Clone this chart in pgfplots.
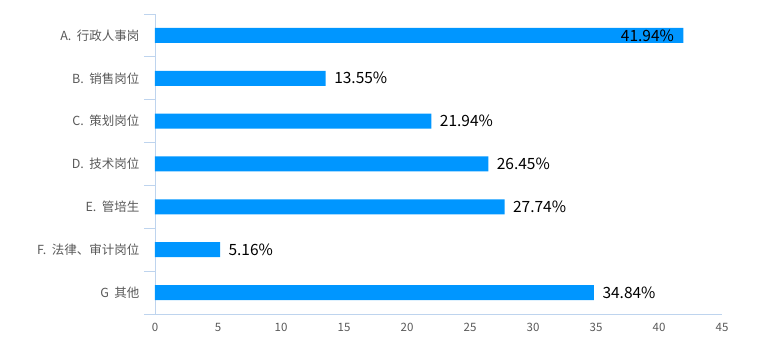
\documentclass[border=0pt]{standalone}
\usepackage{fontspec}
\setmainfont{Noto Sans CJK SC}
\usepackage{pgfplots}
\pgfplotsset{compat=1.18}
\definecolor{barblue}{RGB}{0,150,255}
\definecolor{axisgray}{RGB}{190,212,238}
\definecolor{labgray}{RGB}{89,89,89}
\begin{document}
\begin{tikzpicture}
\begin{axis}[
  name=main,
  width=567pt, height=300pt, scale only axis,
  xmin=0, xmax=45, ymin=-0.5, ymax=6.5,
  axis lines=left, axis line style={axisgray, -, line width=0.8pt},
  xtick={0,5,...,45}, major tick length=0pt,
  ytick={0,...,6},
  yticklabels={G\ \ 其他, F.\ \ 法律、审计岗位, E.\ \ 管培生, D.\ \ 技术岗位, C.\ \ 策划岗位, B.\ \ 销售岗位, A.\ \ 行政人事岗},
  minor ytick={-0.5,0.5,...,6.5}, minor tick length=11pt, tick align=outside,
  minor tick style={axisgray, line width=0.8pt},
  tick label style={font=\fontsize{11.5}{13}\selectfont, text=labgray},
  yticklabel style={xshift=-12pt, font=\fontsize{12.5}{14}\selectfont},
  /pgf/number format/assume math mode=true,
  xticklabel style={yshift=-6pt},
  clip=false,
]
\addplot[xbar, bar width=15pt, fill=barblue, draw=none, bar shift=0pt] coordinates {
  (41.94,6) (13.55,5) (21.94,4) (26.45,3) (27.74,2) (5.16,1) (34.84,0)
};
\addplot[draw=none, mark=none, point meta=x,
  nodes near coords={\pgfmathprintnumber[fixed,precision=2,fixed zerofill]{\pgfplotspointmeta}\%},
  nodes near coords style={anchor=west, xshift=5pt, font=\fontsize{15.5}{18}\selectfont, text=black}]
  coordinates {(13.55,5) (21.94,4) (26.45,3) (27.74,2) (5.16,1) (34.84,0)};
\addplot[draw=none, mark=none, point meta=x,
  nodes near coords={\pgfmathprintnumber[fixed,precision=2,fixed zerofill]{\pgfplotspointmeta}\%},
  nodes near coords style={anchor=east, xshift=-6pt, font=\fontsize{15.5}{18}\selectfont, text=black}]
  coordinates {(41.94,6)};
\end{axis}
\pgfresetboundingbox
\path[use as bounding box] ([xshift=-155pt,yshift=-40pt]main.south west) rectangle ([xshift=40pt,yshift=14pt]main.north east);
\end{tikzpicture}
\end{document}
